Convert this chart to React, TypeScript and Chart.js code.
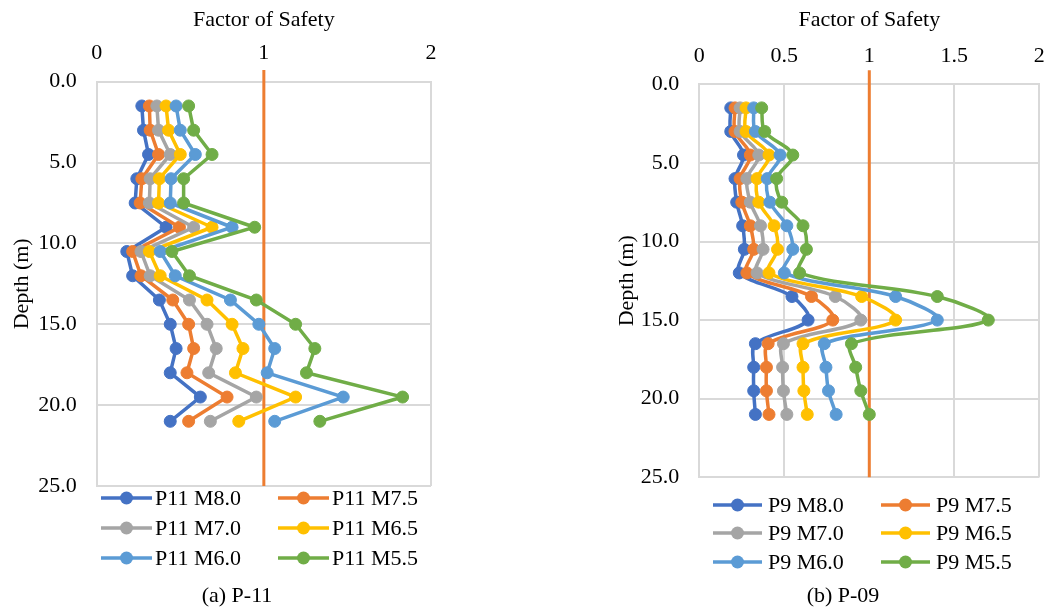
import React, { useEffect, useRef } from 'react';
import { Chart, registerables } from 'chart.js';

Chart.register(...registerables);

// ---------------- DATA ----------------
const depths = [1.5, 3, 4.5, 6, 7.5, 9, 10.5, 12, 13.5, 15, 16.5, 18, 19.5, 21];
const yTickValues = [0, 5, 10, 15, 20, 25];
const yTickLabels = ['0.0', '5.0', '10.0', '15.0', '20.0', '25.0'];
const xTickValuesP11 = [0, 1, 2];
const xTickLabelsP11 = ['0', '1', '2'];
const xTickValuesP9 = [0, 0.5, 1, 1.5, 2];
const xTickLabelsP9 = ['0', '0.5', '1', '1.5', '2'];

const p11Labels = ['P11 M8.0', 'P11 M7.5', 'P11 M7.0', 'P11 M6.5', 'P11 M6.0', 'P11 M5.5'];
const p9Labels = ['P9 M8.0', 'P9 M7.5', 'P9 M7.0', 'P9 M6.5', 'P9 M6.0', 'P9 M5.5'];
const seriesColors = ['#4472C4', '#ED7D31', '#A5A5A5', '#FFC000', '#5B9BD5', '#70AD47'];
const refColor = '#ED7D31';

const p11M80 = [0.27, 0.28, 0.31, 0.24, 0.23, 0.415, 0.18, 0.215, 0.375, 0.44, 0.475, 0.44, 0.62, 0.44];
const p11M75 = [0.315, 0.32, 0.37, 0.27, 0.26, 0.495, 0.215, 0.265, 0.455, 0.55, 0.58, 0.54, 0.78, 0.55];
const p11M70 = [0.36, 0.37, 0.44, 0.32, 0.315, 0.58, 0.265, 0.32, 0.555, 0.66, 0.715, 0.67, 0.955, 0.68];
const p11M65 = [0.415, 0.43, 0.5, 0.375, 0.37, 0.69, 0.315, 0.38, 0.66, 0.81, 0.875, 0.83, 1.19, 0.85];
const p11M60 = [0.475, 0.5, 0.59, 0.445, 0.44, 0.81, 0.38, 0.47, 0.8, 0.97, 1.065, 1.02, 1.475, 1.065];
const p11M55 = [0.55, 0.58, 0.69, 0.52, 0.52, 0.945, 0.45, 0.555, 0.955, 1.19, 1.305, 1.255, 1.83, 1.335];

const p9M80 = [0.185, 0.185, 0.26, 0.21, 0.22, 0.255, 0.265, 0.235, 0.545, 0.64, 0.33, 0.32, 0.32, 0.33];
const p9M75 = [0.21, 0.21, 0.3, 0.24, 0.25, 0.3, 0.32, 0.28, 0.66, 0.785, 0.405, 0.395, 0.395, 0.41];
const p9M70 = [0.24, 0.24, 0.35, 0.28, 0.3, 0.36, 0.375, 0.34, 0.8, 0.95, 0.495, 0.49, 0.495, 0.515];
const p9M65 = [0.275, 0.275, 0.41, 0.34, 0.35, 0.44, 0.46, 0.41, 0.955, 1.155, 0.61, 0.61, 0.615, 0.635];
const p9M60 = [0.32, 0.33, 0.475, 0.4, 0.415, 0.515, 0.55, 0.5, 1.155, 1.4, 0.735, 0.745, 0.76, 0.805];
const p9M55 = [0.367, 0.385, 0.55, 0.455, 0.485, 0.61, 0.63, 0.59, 1.4, 1.7, 0.895, 0.92, 0.95, 1.0];

const refX = [1, 1];
const refDepthP11 = [-0.72, 25];
const refDepthP9 = [-0.9, 25];

const xTitle = 'Factor of Safety';
const yTitle = 'Depth (m)';

// ---------------- CHART SETUP ----------------
const FONT = '"Liberation Serif", "Times New Roman", serif';
Chart.defaults.font.family = FONT;
Chart.defaults.font.size = 22;
Chart.defaults.color = '#000';

type Spec = {
  canvasLeft: number;
  canvasWidth: number;
  areaLeft: number;
  areaTop: number;
  padRight: number;
  padBottom: number;
  xTickValues: number[];
  xTickLabels: string[];
  xTickPad: number;
  tension: number;
  labels: string[];
  series: number[][];
  refDepth: number[];
  legendCols: number[];
  legendRows: number[];
  markerLen: number;
  textGap: number;
  caption: string;
  captionX: number;
  captionY: number;
};

function makeOverlay(spec: Spec) {
  return {
    id: 'overlayLegend',
    afterDraw(chart: any) {
      const ctx = chart.ctx as CanvasRenderingContext2D;
      const items = chart.data.datasets.filter((d: any) => !d.isRef);
      items.forEach((ds: any, i: number) => {
        const c = i % 2;
        const r = Math.floor(i / 2);
        const x0 = spec.legendCols[c];
        const y = spec.legendRows[r];
        ctx.save();
        ctx.strokeStyle = ds.borderColor;
        ctx.lineWidth = 3.5;
        ctx.beginPath();
        ctx.moveTo(x0, y);
        ctx.lineTo(x0 + spec.markerLen, y);
        ctx.stroke();
        ctx.fillStyle = ds.borderColor;
        ctx.beginPath();
        ctx.arc(x0 + spec.markerLen / 2, y, 6.5, 0, Math.PI * 2);
        ctx.fill();
        ctx.fillStyle = '#000';
        ctx.font = '22px ' + FONT;
        ctx.textBaseline = 'middle';
        ctx.textAlign = 'left';
        ctx.fillText(ds.label, x0 + spec.markerLen + spec.textGap, y + 1);
        ctx.restore();
      });
      ctx.save();
      ctx.fillStyle = '#000';
      ctx.font = '22px ' + FONT;
      ctx.textBaseline = 'middle';
      ctx.textAlign = 'center';
      ctx.fillText(spec.caption, spec.captionX, spec.captionY);
      ctx.restore();
    },
  };
}

function buildConfig(spec: Spec): any {
  const n = spec.series.length;
  const datasets: any[] = spec.series.map((vals, i) => ({
    label: spec.labels[i],
    data: vals.map((v, k) => ({ x: v, y: depths[k] })),
    borderColor: seriesColors[i],
    backgroundColor: seriesColors[i],
    pointBackgroundColor: seriesColors[i],
    pointBorderColor: seriesColors[i],
    borderWidth: 3.5,
    pointRadius: 6,
    pointBorderWidth: 1,
    tension: spec.tension,
    order: n - i,
  }));
  datasets.push({
    label: 'FS = 1',
    isRef: true,
    data: refX.map((v, k) => ({ x: v, y: spec.refDepth[k] })),
    borderColor: refColor,
    backgroundColor: refColor,
    borderWidth: 3,
    pointRadius: 0,
    tension: 0,
    clip: false,
    order: n + 1,
  });

  const gridColor = '#D9D9D9';
  return {
    type: 'line',
    data: { datasets },
    plugins: [makeOverlay(spec)],
    options: {
      animation: false,
      responsive: false,
      events: [],
      indexAxis: 'y',
      layout: {
        padding: { left: 0, top: 0, right: spec.padRight, bottom: spec.padBottom },
      },
      plugins: {
        legend: { display: false },
        tooltip: { enabled: false },
        title: { display: false },
      },
      scales: {
        x: {
          type: 'linear',
          position: 'top',
          min: 0,
          max: 2,
          afterBuildTicks: (s: any) => {
            s.ticks = spec.xTickValues.map((v) => ({ value: v }));
          },
          ticks: {
            padding: spec.xTickPad,
            color: '#000',
            font: { size: 22 },
            callback: (v: number) => spec.xTickLabels[spec.xTickValues.indexOf(v)],
          },
          grid: { color: gridColor, lineWidth: 2, drawTicks: false },
          border: { color: gridColor, width: 2 },
          title: {
            display: true,
            text: xTitle,
            color: '#000',
            font: { size: 22 },
            padding: { top: 7.3, bottom: 0 },
          },
          afterFit: (s: any) => {
            s.height = spec.areaTop;
            s.paddingLeft = 0;
            s.paddingRight = 0;
          },
        },
        y: {
          type: 'linear',
          position: 'left',
          min: 0,
          max: 25,
          reverse: true,
          afterBuildTicks: (s: any) => {
            s.ticks = yTickValues.map((v) => ({ value: v }));
          },
          ticks: {
            padding: 20,
            color: '#000',
            font: { size: 22 },
            callback: (v: number) => yTickLabels[yTickValues.indexOf(v)],
          },
          grid: { color: gridColor, lineWidth: 2, drawTicks: false },
          border: { color: gridColor, width: 2 },
          title: {
            display: true,
            text: yTitle,
            color: '#000',
            font: { size: 22 },
            padding: { top: 8.8, bottom: 0 },
          },
          afterFit: (s: any) => {
            s.width = spec.areaLeft;
            s.paddingTop = 0;
            s.paddingBottom = 0;
          },
        },
      },
    },
  };
}

const specP11: Spec = {
  canvasLeft: 0,
  canvasWidth: 605,
  areaLeft: 96.7,
  areaTop: 81.7,
  padRight: 174,
  padBottom: 123,
  xTickValues: xTickValuesP11,
  xTickLabels: xTickLabelsP11,
  xTickPad: 15.5,
  tension: 0,
  labels: p11Labels,
  series: [p11M80, p11M75, p11M70, p11M65, p11M60, p11M55],
  refDepth: refDepthP11,
  legendCols: [101, 278],
  legendRows: [498, 528, 558],
  markerLen: 51,
  textGap: 3,
  caption: '(a) P-11',
  captionX: 237,
  captionY: 596,
};

const specP9: Spec = {
  canvasLeft: 605,
  canvasWidth: 444,
  areaLeft: 94.3,
  areaTop: 84.3,
  padRight: 9.7,
  padBottom: 131.7,
  xTickValues: xTickValuesP9,
  xTickLabels: xTickLabelsP9,
  xTickPad: 15,
  tension: 0.33,
  labels: p9Labels,
  series: [p9M80, p9M75, p9M70, p9M65, p9M60, p9M55],
  refDepth: refDepthP9,
  legendCols: [108, 276],
  legendRows: [505, 533, 562],
  markerLen: 49,
  textGap: 6,
  caption: '(b) P-09',
  captionX: 238,
  captionY: 596,
};

function FSChart({ spec }: { spec: Spec }) {
  const ref = useRef<HTMLCanvasElement | null>(null);
  useEffect(() => {
    if (!ref.current) return;
    const chart = new Chart(ref.current, buildConfig(spec));
    return () => chart.destroy();
  }, [spec]);
  return (
    <canvas
      ref={ref}
      width={spec.canvasWidth}
      height={609}
      style={{
        position: 'absolute',
        left: spec.canvasLeft,
        top: 0,
        width: spec.canvasWidth,
        height: 609,
        display: 'block',
      }}
    />
  );
}

export default function App() {
  return (
    <div style={{ background: '#fff' }}>
      <FSChart spec={specP11} />
      <FSChart spec={specP9} />
    </div>
  );
}
